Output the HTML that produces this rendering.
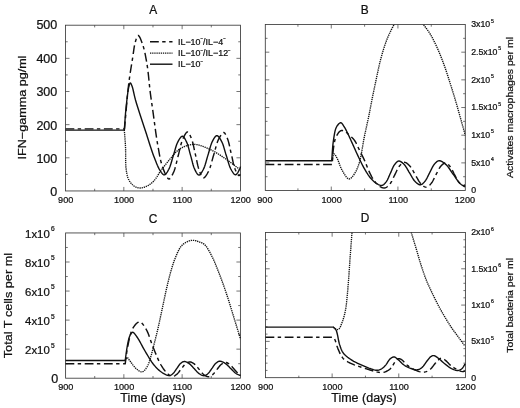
<!DOCTYPE html>
<html><head><meta charset="utf-8"><title>Figure</title>
<style>html,body{margin:0;padding:0;background:#fff}svg{display:block;will-change:transform}text{font-family:"Liberation Sans", sans-serif;fill:#111;stroke:#111;stroke-width:0.24px}</style>
</head><body>
<svg width="520" height="408" viewBox="0 0 520 408">
<rect width="520" height="408" fill="#fff"/>
<rect x="65.5" y="25.2" width="174.95" height="165.75" fill="none" stroke="#3a3a3a" stroke-width="0.85"/>
<path d="M123.82,190.95v-4.0M123.82,25.2v4.0M182.13,190.95v-4.0M182.13,25.2v4.0M94.66,190.95v-2.2M94.66,25.2v2.2M152.97,190.95v-2.2M152.97,25.2v2.2M211.29,190.95v-2.2M211.29,25.2v2.2M65.5,157.8h4.0M240.45,157.8h-4.0M65.5,124.65h4.0M240.45,124.65h-4.0M65.5,91.5h4.0M240.45,91.5h-4.0M65.5,58.35h4.0M240.45,58.35h-4.0M65.5,174.38h2.2M240.45,174.38h-2.2M65.5,141.22h2.2M240.45,141.22h-2.2M65.5,108.07h2.2M240.45,108.07h-2.2M65.5,74.92h2.2M240.45,74.92h-2.2M65.5,41.77h2.2M240.45,41.77h-2.2" fill="none" stroke="#3a3a3a" stroke-width="0.7"/>
<path d="M124.3,129.8 L124.45,131.87 L124.61,133.91 L124.77,135.94 L124.93,137.98 L125.09,140.03 L125.24,142.13 L125.38,144.28 L125.5,146.5 L125.6,149.29 L125.63,152.27 L125.64,155.37 L125.64,158.5 L125.67,161.59 L125.76,164.55 L125.92,167.32 L126.2,169.8 L126.43,171.33 L126.68,172.79 L126.94,174.18 L127.24,175.5 L127.58,176.75 L127.98,177.95 L128.45,179.1 L129,180.2 L129.56,181.16 L130.19,182.09 L130.86,182.99 L131.59,183.84 L132.35,184.63 L133.14,185.34 L133.96,185.97 L134.8,186.5 L135.58,186.9 L136.39,187.25 L137.23,187.54 L138.09,187.76 L138.97,187.91 L139.86,187.98 L140.78,187.98 L141.7,187.9 L142.94,187.66 L144.25,187.26 L145.61,186.73 L146.98,186.08 L148.35,185.33 L149.69,184.49 L150.99,183.57 L152.2,182.6 L153.51,181.34 L154.74,179.88 L155.9,178.29 L157.03,176.6 L158.13,174.86 L159.23,173.11 L160.35,171.41 L161.5,169.8 L162.66,168.28 L163.83,166.76 L165,165.24 L166.19,163.74 L167.36,162.26 L168.53,160.82 L169.68,159.43 L170.8,158.1 L171.72,157.01 L172.62,155.94 L173.5,154.89 L174.38,153.87 L175.26,152.89 L176.15,151.96 L177.06,151.1 L178,150.3 L178.83,149.66 L179.66,149.07 L180.49,148.51 L181.34,148 L182.21,147.53 L183.1,147.09 L184.03,146.68 L185,146.3 L186.15,145.89 L187.33,145.5 L188.55,145.14 L189.81,144.83 L191.11,144.58 L192.44,144.42 L193.8,144.35 L195.2,144.4 L197.11,144.66 L199.13,145.13 L201.23,145.77 L203.38,146.55 L205.54,147.42 L207.69,148.36 L209.79,149.34 L211.8,150.3 L213.73,151.28 L215.62,152.34 L217.48,153.45 L219.31,154.61 L221.12,155.81 L222.92,157.03 L224.71,158.27 L226.5,159.5 L228.29,160.75 L230.05,162.04 L231.81,163.35 L233.55,164.67 L235.28,166.01 L237.02,167.35 L238.76,168.68 L240.5,170" fill="none" stroke="#111" stroke-width="1.35" stroke-dasharray="1.3 0.85"/>
<path d="M65.5,128.85 L124.5,128.85 L125.02,123.16 L125.52,117.36 L126.03,111.51 L126.53,105.68 L127.04,99.95 L127.57,94.38 L128.12,89.04 L128.7,84 L129.17,80.3 L129.67,76.71 L130.18,73.23 L130.7,69.87 L131.22,66.61 L131.73,63.46 L132.23,60.43 L132.7,57.5 L133.03,55.32 L133.33,53.17 L133.61,51.08 L133.9,49.05 L134.19,47.12 L134.52,45.29 L134.88,43.57 L135.3,42 L135.61,40.95 L135.94,39.85 L136.29,38.77 L136.64,37.75 L137.02,36.86 L137.4,36.15 L137.79,35.68 L138.2,35.5 L138.71,35.72 L139.25,36.35 L139.82,37.32 L140.4,38.53 L140.98,39.92 L141.55,41.39 L142.1,42.88 L142.6,44.3 L143.27,46.35 L143.9,48.59 L144.48,50.97 L145.04,53.48 L145.56,56.08 L146.06,58.76 L146.54,61.47 L147,64.2 L147.52,67.58 L147.98,71.18 L148.41,74.91 L148.8,78.71 L149.18,82.48 L149.55,86.14 L149.92,89.61 L150.3,92.8 L150.58,94.92 L150.84,96.85 L151.09,98.66 L151.35,100.42 L151.61,102.19 L151.88,104.05 L152.18,106.07 L152.5,108.3 L153.06,112.34 L153.68,116.93 L154.34,121.9 L155.04,127.07 L155.76,132.28 L156.5,137.37 L157.25,142.17 L158,146.5 L158.54,149.47 L159.05,152.34 L159.56,155.11 L160.08,157.78 L160.64,160.35 L161.25,162.81 L161.93,165.16 L162.7,167.4 L163.38,169.21 L164.13,171.13 L164.92,173.05 L165.74,174.88 L166.57,176.49 L167.41,177.79 L168.22,178.66 L169,179 L169.6,178.85 L170.21,178.37 L170.81,177.63 L171.41,176.68 L171.99,175.6 L172.56,174.44 L173.1,173.26 L173.62,172.12 L174.32,170.42 L174.95,168.52 L175.54,166.46 L176.09,164.3 L176.62,162.08 L177.15,159.84 L177.69,157.63 L178.25,155.5 L178.81,153.37 L179.35,151.16 L179.88,148.92 L180.41,146.7 L180.96,144.54 L181.55,142.48 L182.18,140.58 L182.88,138.88 L183.4,137.75 L183.96,136.57 L184.55,135.41 L185.15,134.33 L185.75,133.39 L186.35,132.65 L186.94,132.16 L187.5,132 L188.03,132.18 L188.56,132.67 L189.08,133.4 L189.59,134.31 L190.1,135.36 L190.58,136.48 L191.05,137.62 L191.5,138.72 L192.1,140.39 L192.65,142.24 L193.16,144.25 L193.64,146.36 L194.1,148.53 L194.55,150.71 L195.01,152.87 L195.5,154.95 L195.99,157.03 L196.45,159.19 L196.9,161.37 L197.36,163.54 L197.84,165.65 L198.35,167.66 L198.9,169.51 L199.5,171.18 L199.94,172.28 L200.41,173.41 L200.89,174.53 L201.38,175.57 L201.89,176.48 L202.41,177.21 L202.95,177.7 L203.5,177.9 L204.1,177.76 L204.73,177.3 L205.38,176.59 L206.04,175.68 L206.71,174.63 L207.35,173.51 L207.97,172.36 L208.55,171.25 L209.3,169.62 L209.99,167.78 L210.63,165.8 L211.23,163.71 L211.82,161.56 L212.4,159.39 L212.99,157.26 L213.6,155.2 L214.21,153.14 L214.8,151.01 L215.38,148.84 L215.97,146.69 L216.57,144.6 L217.21,142.62 L217.9,140.78 L218.65,139.15 L219.23,138.04 L219.85,136.89 L220.5,135.77 L221.16,134.72 L221.83,133.81 L222.48,133.1 L223.11,132.65 L223.7,132.5 L224.23,132.68 L224.74,133.14 L225.23,133.83 L225.72,134.68 L226.19,135.66 L226.64,136.7 L227.08,137.77 L227.5,138.8 L228.07,140.36 L228.6,142.1 L229.08,143.98 L229.53,145.95 L229.97,147.99 L230.4,150.03 L230.84,152.05 L231.3,154 L231.76,155.95 L232.2,157.97 L232.63,160.01 L233.07,162.05 L233.52,164.02 L234,165.9 L234.53,167.64 L235.1,169.2 L235.53,170.22 L236,171.27 L236.49,172.29 L236.99,173.24 L237.49,174.08 L237.98,174.77 L238.46,175.26 L238.9,175.5 L239.11,175.51 L239.31,175.46 L239.52,175.35 L239.71,175.2 L239.91,175.04 L240.1,174.86 L240.3,174.7 L240.5,174.57" fill="none" stroke="#111" stroke-width="1.45" stroke-linejoin="round" stroke-dasharray="8.8 3.4 3.4 3.6"/>
<path d="M65.5,130.15 L124.3,130.15 L124.5,127.42 L124.7,124.69 L124.88,121.96 L125.07,119.23 L125.27,116.51 L125.49,113.77 L125.73,111.04 L126,108.3 L126.31,105.38 L126.65,102.25 L127,99.03 L127.38,95.85 L127.77,92.84 L128.18,90.11 L128.59,87.79 L129,86 L129.16,85.44 L129.31,84.9 L129.47,84.4 L129.62,83.95 L129.78,83.56 L129.95,83.27 L130.12,83.07 L130.3,83 L130.49,83.06 L130.7,83.26 L130.91,83.56 L131.13,83.96 L131.35,84.42 L131.57,84.93 L131.78,85.46 L132,86 L132.42,87.21 L132.82,88.64 L133.2,90.25 L133.59,92.02 L134.01,93.91 L134.45,95.89 L134.95,97.93 L135.5,100 L136.45,103.24 L137.55,106.79 L138.74,110.55 L140.02,114.47 L141.33,118.47 L142.65,122.47 L143.95,126.41 L145.2,130.2 L146.37,133.82 L147.55,137.52 L148.74,141.23 L149.92,144.92 L151.09,148.5 L152.25,151.93 L153.39,155.15 L154.5,158.1 L155.25,160.01 L155.97,161.86 L156.69,163.64 L157.39,165.33 L158.1,166.92 L158.82,168.38 L159.55,169.72 L160.3,170.9 L160.79,171.61 L161.28,172.32 L161.78,173.01 L162.28,173.63 L162.79,174.16 L163.29,174.57 L163.8,174.83 L164.3,174.9 L164.87,174.73 L165.46,174.32 L166.05,173.72 L166.63,172.95 L167.21,172.08 L167.77,171.14 L168.31,170.18 L168.83,169.23 L169.49,167.84 L170.11,166.28 L170.68,164.59 L171.22,162.81 L171.75,160.97 L172.27,159.13 L172.8,157.31 L173.35,155.55 L173.9,153.79 L174.43,151.97 L174.95,150.13 L175.48,148.29 L176.02,146.51 L176.59,144.82 L177.21,143.26 L177.88,141.87 L178.39,140.92 L178.94,139.94 L179.51,138.99 L180.09,138.1 L180.68,137.33 L181.27,136.73 L181.84,136.33 L182.4,136.2 L182.94,136.35 L183.48,136.76 L184.02,137.37 L184.55,138.15 L185.07,139.03 L185.57,139.98 L186.06,140.95 L186.52,141.9 L187.14,143.3 L187.7,144.87 L188.22,146.57 L188.72,148.36 L189.19,150.2 L189.67,152.06 L190.15,153.89 L190.65,155.65 L191.15,157.41 L191.63,159.24 L192.11,161.1 L192.58,162.94 L193.08,164.73 L193.6,166.43 L194.16,168 L194.78,169.4 L195.24,170.35 L195.73,171.32 L196.23,172.27 L196.76,173.16 L197.29,173.93 L197.83,174.54 L198.36,174.95 L198.9,175.1 L199.46,174.96 L200.03,174.56 L200.61,173.94 L201.2,173.15 L201.78,172.25 L202.34,171.27 L202.89,170.28 L203.4,169.32 L204.07,167.89 L204.68,166.3 L205.25,164.57 L205.79,162.76 L206.31,160.88 L206.83,159 L207.35,157.14 L207.9,155.35 L208.45,153.56 L208.97,151.7 L209.49,149.82 L210.01,147.94 L210.55,146.13 L211.12,144.4 L211.73,142.81 L212.4,141.38 L212.91,140.42 L213.45,139.43 L214,138.46 L214.57,137.56 L215.15,136.78 L215.74,136.16 L216.32,135.75 L216.9,135.6 L217.48,135.74 L218.08,136.14 L218.68,136.76 L219.29,137.53 L219.88,138.43 L220.46,139.39 L221.02,140.38 L221.55,141.34 L222.24,142.75 L222.87,144.33 L223.46,146.04 L224.01,147.85 L224.55,149.71 L225.09,151.58 L225.63,153.42 L226.2,155.2 L226.77,156.98 L227.31,158.82 L227.85,160.69 L228.39,162.55 L228.94,164.36 L229.53,166.07 L230.16,167.65 L230.85,169.06 L231.38,170.02 L231.94,171.01 L232.53,171.98 L233.13,172.88 L233.74,173.66 L234.34,174.27 L234.93,174.67 L235.5,174.8 L236.06,174.61 L236.64,174.11 L237.22,173.4 L237.8,172.53 L238.34,171.59 L238.84,170.66 L239.27,169.81 L239.62,169.12 L239.79,168.77 L239.93,168.45 L240.04,168.14 L240.14,167.84 L240.23,167.54 L240.31,167.25 L240.4,166.96 L240.5,166.65" fill="none" stroke="#111" stroke-width="1.4" stroke-linejoin="round"/>
<path d="M150,41.8H172.5" fill="none" stroke="#111" stroke-width="1.45" stroke-linejoin="round" stroke-dasharray="8.8 3.4 3.4 3.6"/>
<path d="M150,53.1H172.5" fill="none" stroke="#111" stroke-width="1.35" stroke-dasharray="1.3 0.85"/>
<path d="M150,64.2H172.5" fill="none" stroke="#111" stroke-width="1.4" stroke-linejoin="round"/>
<text transform="translate(178,44.7) scale(0.99,1)" font-size="9" text-anchor="start">IL−10<tspan dy="-4.5" font-size="4.5">−</tspan><tspan dy="4.5">/IL−4</tspan><tspan dy="-4.5" font-size="4.5">−</tspan><tspan dy="4.5"></tspan></text>
<text transform="translate(178,56) scale(0.99,1)" font-size="9" text-anchor="start">IL−10<tspan dy="-4.5" font-size="4.5">−</tspan><tspan dy="4.5">/IL−12</tspan><tspan dy="-4.5" font-size="4.5">−</tspan><tspan dy="4.5"></tspan></text>
<text transform="translate(178,67.1) scale(0.99,1)" font-size="9" text-anchor="start">IL−10<tspan dy="-4.5" font-size="4.5">−</tspan><tspan dy="4.5"></tspan></text>
<text transform="translate(57.3,196.35) scale(1.02,1)" font-size="12.3" text-anchor="end">0</text>
<text transform="translate(57.3,162.93) scale(1.02,1)" font-size="12.3" text-anchor="end">100</text>
<text transform="translate(57.3,129.51) scale(1.02,1)" font-size="12.3" text-anchor="end">200</text>
<text transform="translate(57.3,96.09) scale(1.02,1)" font-size="12.3" text-anchor="end">300</text>
<text transform="translate(57.3,62.67) scale(1.02,1)" font-size="12.3" text-anchor="end">400</text>
<text transform="translate(57.3,29.25) scale(1.02,1)" font-size="12.3" text-anchor="end">500</text>
<text transform="translate(65.7,202.5) scale(0.94,1)" font-size="9.7" text-anchor="middle">900</text>
<text transform="translate(124.02,202.5) scale(0.94,1)" font-size="9.7" text-anchor="middle">1000</text>
<text transform="translate(182.33,202.5) scale(0.94,1)" font-size="9.7" text-anchor="middle">1100</text>
<text transform="translate(240.65,202.5) scale(0.94,1)" font-size="9.7" text-anchor="middle">1200</text>
<text transform="translate(26,107.5) rotate(-90) scale(1.095,1)" font-size="11.5" text-anchor="middle">IFN−gamma pg/ml</text>
<text transform="translate(153.1,14.4)" font-size="11.9" text-anchor="middle">A</text>
<rect x="265.3" y="24.5" width="200" height="166.05" fill="none" stroke="#3a3a3a" stroke-width="0.85"/>
<path d="M331.27,190.55v-4.0M331.27,24.5v4.0M397.93,190.55v-4.0M397.93,24.5v4.0M297.93,190.55v-2.2M297.93,24.5v2.2M364.6,190.55v-2.2M364.6,24.5v2.2M431.27,190.55v-2.2M431.27,24.5v2.2M265.3,162.88h4.0M465.3,162.88h-4.0M265.3,135.2h4.0M465.3,135.2h-4.0M265.3,107.53h4.0M465.3,107.53h-4.0M265.3,79.85h4.0M465.3,79.85h-4.0M265.3,52.18h4.0M465.3,52.18h-4.0M265.3,176.71h2.2M465.3,176.71h-2.2M265.3,149.04h2.2M465.3,149.04h-2.2M265.3,121.36h2.2M465.3,121.36h-2.2M265.3,93.69h2.2M465.3,93.69h-2.2M265.3,66.01h2.2M465.3,66.01h-2.2M265.3,38.34h2.2M465.3,38.34h-2.2" fill="none" stroke="#3a3a3a" stroke-width="0.7"/>
<clipPath id="cb"><rect x="265.3" y="24.5" width="200.0" height="166.05"/></clipPath>
<g clip-path="url(#cb)">
<path d="M332.2,160.6 L332.41,159.69 L332.61,158.66 L332.79,157.59 L332.98,156.54 L333.19,155.58 L333.42,154.79 L333.69,154.24 L334,154 L334.31,154.06 L334.65,154.31 L335.02,154.73 L335.41,155.28 L335.81,155.92 L336.21,156.61 L336.61,157.31 L337,158 L337.6,159.19 L338.18,160.58 L338.75,162.11 L339.33,163.73 L339.93,165.38 L340.57,167.01 L341.25,168.57 L342,170 L342.77,171.34 L343.61,172.8 L344.49,174.27 L345.39,175.69 L346.32,176.95 L347.24,177.98 L348.14,178.69 L349,179 L349.65,178.93 L350.3,178.65 L350.94,178.18 L351.58,177.58 L352.21,176.86 L352.83,176.09 L353.43,175.29 L354,174.5 L354.75,173.39 L355.47,172.18 L356.15,170.87 L356.8,169.46 L357.43,167.97 L358.04,166.39 L358.63,164.73 L359.2,163 L359.98,160.26 L360.68,157.21 L361.33,153.94 L361.94,150.51 L362.52,147.03 L363.1,143.56 L363.69,140.19 L364.3,137 L364.87,134.25 L365.45,131.55 L366.03,128.89 L366.6,126.26 L367.17,123.66 L367.73,121.09 L368.27,118.53 L368.8,116 L369.27,113.68 L369.72,111.39 L370.15,109.12 L370.58,106.87 L371.01,104.64 L371.43,102.42 L371.86,100.21 L372.3,98 L372.73,95.9 L373.15,93.83 L373.57,91.79 L374,89.75 L374.43,87.7 L374.87,85.62 L375.33,83.49 L375.8,81.3 L376.36,78.67 L376.92,75.95 L377.5,73.17 L378.09,70.34 L378.7,67.51 L379.34,64.69 L380,61.91 L380.7,59.2 L381.39,56.66 L382.1,54.13 L382.83,51.62 L383.58,49.13 L384.37,46.67 L385.18,44.26 L386.02,41.9 L386.9,39.6 L387.73,37.56 L388.6,35.55 L389.49,33.58 L390.41,31.64 L391.34,29.75 L392.29,27.91 L393.24,26.12 L394.2,24.4 L395.01,22.94 L395.8,21.48 L396.6,20.05 L397.4,18.66 L398.23,17.34 L399.1,16.11 L400.02,14.99 L401,14 L401.88,13.24 L402.82,12.51 L403.79,11.83 L404.78,11.23 L405.8,10.72 L406.81,10.33 L407.81,10.09 L408.8,10 L409.78,10.09 L410.77,10.34 L411.77,10.73 L412.76,11.24 L413.74,11.84 L414.7,12.51 L415.62,13.24 L416.5,14 L417.49,15.02 L418.42,16.19 L419.3,17.49 L420.15,18.88 L420.97,20.31 L421.8,21.75 L422.63,23.16 L423.5,24.5 L424.38,25.77 L425.28,27.01 L426.18,28.24 L427.08,29.46 L427.98,30.71 L428.87,31.99 L429.74,33.31 L430.6,34.7 L431.57,36.38 L432.52,38.14 L433.46,39.97 L434.39,41.83 L435.3,43.73 L436.19,45.63 L437.06,47.53 L437.9,49.4 L438.7,51.21 L439.47,53.02 L440.22,54.83 L440.96,56.64 L441.68,58.46 L442.39,60.31 L443.09,62.19 L443.8,64.1 L444.56,66.22 L445.32,68.38 L446.06,70.57 L446.8,72.79 L447.52,75.03 L448.25,77.28 L448.98,79.54 L449.7,81.8 L450.45,84.15 L451.21,86.54 L451.96,88.94 L452.71,91.35 L453.45,93.76 L454.18,96.16 L454.9,98.54 L455.6,100.9 L456.26,103.13 L456.9,105.36 L457.53,107.57 L458.15,109.77 L458.77,111.96 L459.38,114.14 L459.99,116.32 L460.6,118.5 L461.2,120.62 L461.79,122.73 L462.38,124.83 L462.96,126.92 L463.55,129.02 L464.13,131.11 L464.71,133.2 L465.3,135.3" fill="none" stroke="#111" stroke-width="1.35" stroke-dasharray="1.3 0.85"/>
</g>
<path d="M265.5,164.4 L332.2,164.4 L332.35,162.33 L332.48,160.22 L332.6,158.1 L332.73,155.99 L332.87,153.9 L333.04,151.86 L333.25,149.89 L333.5,148 L333.73,146.49 L333.95,145 L334.18,143.54 L334.44,142.12 L334.74,140.74 L335.09,139.43 L335.51,138.18 L336,137 L336.48,136.02 L337.02,135.03 L337.61,134.06 L338.23,133.14 L338.88,132.31 L339.55,131.61 L340.23,131.06 L340.9,130.7 L341.39,130.57 L341.91,130.54 L342.43,130.58 L342.96,130.69 L343.49,130.86 L344.01,131.05 L344.51,131.27 L345,131.5 L345.49,131.77 L345.96,132.08 L346.41,132.44 L346.85,132.83 L347.29,133.25 L347.74,133.69 L348.21,134.14 L348.7,134.6 L349.39,135.22 L350.13,135.87 L350.89,136.55 L351.67,137.27 L352.45,138.02 L353.2,138.8 L353.93,139.63 L354.6,140.5 L355.31,141.57 L355.96,142.72 L356.58,143.94 L357.17,145.2 L357.75,146.48 L358.32,147.77 L358.9,149.05 L359.5,150.3 L360.11,151.52 L360.73,152.72 L361.35,153.93 L361.97,155.13 L362.59,156.35 L363.2,157.57 L363.8,158.82 L364.4,160.1 L365.03,161.53 L365.64,163.01 L366.24,164.52 L366.83,166.05 L367.43,167.57 L368.04,169.06 L368.66,170.51 L369.3,171.9 L369.88,173.09 L370.45,174.27 L371.03,175.42 L371.61,176.55 L372.22,177.65 L372.85,178.71 L373.5,179.73 L374.2,180.7 L374.87,181.57 L375.57,182.43 L376.29,183.27 L377.04,184.07 L377.8,184.82 L378.56,185.51 L379.33,186.1 L380.1,186.6 L380.7,186.93 L381.32,187.23 L381.94,187.5 L382.56,187.71 L383.19,187.87 L383.8,187.96 L384.41,187.97 L385,187.9 L385.64,187.71 L386.27,187.41 L386.89,187.01 L387.51,186.54 L388.11,186 L388.7,185.41 L389.27,184.79 L389.82,184.15 L390.51,183.25 L391.14,182.22 L391.75,181.1 L392.34,179.92 L392.91,178.7 L393.48,177.47 L394.06,176.26 L394.65,175.1 L395.24,173.94 L395.82,172.73 L396.39,171.5 L396.96,170.28 L397.55,169.1 L398.16,167.98 L398.79,166.95 L399.48,166.05 L400.03,165.4 L400.6,164.75 L401.19,164.12 L401.8,163.55 L402.42,163.06 L403.04,162.67 L403.67,162.41 L404.3,162.3 L404.97,162.37 L405.66,162.6 L406.36,162.97 L407.07,163.46 L407.77,164.02 L408.46,164.65 L409.13,165.3 L409.77,165.95 L410.53,166.82 L411.25,167.82 L411.94,168.9 L412.61,170.05 L413.27,171.24 L413.92,172.44 L414.58,173.62 L415.25,174.75 L415.92,175.88 L416.58,177.06 L417.23,178.26 L417.89,179.45 L418.56,180.6 L419.25,181.68 L419.97,182.68 L420.73,183.55 L421.37,184.2 L422.03,184.85 L422.73,185.47 L423.43,186.04 L424.14,186.52 L424.84,186.89 L425.53,187.13 L426.2,187.2 L426.83,187.1 L427.45,186.86 L428.07,186.49 L428.68,186.02 L429.29,185.48 L429.87,184.89 L430.45,184.26 L431,183.64 L431.67,182.78 L432.31,181.81 L432.91,180.75 L433.5,179.63 L434.07,178.47 L434.64,177.3 L435.21,176.15 L435.8,175.05 L436.39,173.95 L436.96,172.8 L437.53,171.63 L438.1,170.47 L438.69,169.35 L439.29,168.29 L439.93,167.32 L440.6,166.46 L441.16,165.83 L441.74,165.21 L442.34,164.61 L442.95,164.06 L443.57,163.59 L444.19,163.22 L444.8,162.99 L445.4,162.9 L445.97,162.98 L446.55,163.2 L447.13,163.55 L447.7,163.99 L448.27,164.5 L448.82,165.06 L449.36,165.64 L449.88,166.22 L450.5,167.03 L451.09,167.93 L451.66,168.92 L452.2,169.97 L452.73,171.05 L453.26,172.14 L453.8,173.22 L454.35,174.25 L454.9,175.28 L455.44,176.36 L455.97,177.45 L456.5,178.53 L457.04,179.58 L457.61,180.57 L458.2,181.47 L458.82,182.28 L459.36,182.85 L459.93,183.43 L460.53,183.97 L461.13,184.47 L461.73,184.9 L462.3,185.25 L462.83,185.49 L463.3,185.6 L463.54,185.6 L463.77,185.54 L463.99,185.45 L464.19,185.33 L464.39,185.19 L464.59,185.05 L464.79,184.91 L465,184.8" fill="none" stroke="#111" stroke-width="1.45" stroke-linejoin="round" stroke-dasharray="8.8 3.4 3.4 3.6"/>
<path d="M265.5,160.8 L331.7,160.8 L331.91,158.17 L332.1,155.48 L332.28,152.78 L332.46,150.08 L332.67,147.43 L332.9,144.85 L333.17,142.36 L333.5,140 L333.78,138.17 L334.06,136.34 L334.35,134.54 L334.66,132.8 L335.02,131.15 L335.43,129.62 L335.92,128.22 L336.5,127 L336.96,126.23 L337.46,125.46 L338.01,124.73 L338.59,124.07 L339.17,123.5 L339.74,123.06 L340.29,122.79 L340.8,122.7 L341.24,122.82 L341.66,123.12 L342.07,123.55 L342.48,124.09 L342.87,124.69 L343.26,125.32 L343.63,125.94 L344,126.5 L344.38,127.06 L344.73,127.63 L345.07,128.2 L345.4,128.79 L345.72,129.41 L346.06,130.06 L346.42,130.75 L346.8,131.5 L347.44,132.78 L348.13,134.21 L348.85,135.75 L349.59,137.37 L350.35,139.04 L351.11,140.72 L351.86,142.39 L352.6,144 L353.34,145.62 L354.07,147.25 L354.8,148.89 L355.53,150.53 L356.27,152.17 L357.01,153.8 L357.75,155.41 L358.5,157 L359.22,158.51 L359.94,160.02 L360.67,161.52 L361.39,163.01 L362.13,164.48 L362.87,165.92 L363.63,167.33 L364.4,168.7 L365.11,169.92 L365.82,171.12 L366.53,172.31 L367.26,173.47 L367.99,174.59 L368.75,175.68 L369.51,176.72 L370.3,177.7 L371,178.52 L371.71,179.33 L372.42,180.1 L373.15,180.84 L373.9,181.54 L374.65,182.19 L375.42,182.78 L376.2,183.3 L376.91,183.73 L377.64,184.15 L378.39,184.54 L379.15,184.89 L379.9,185.17 L380.63,185.36 L381.34,185.44 L382,185.4 L382.59,185.23 L383.16,184.95 L383.7,184.57 L384.23,184.11 L384.74,183.59 L385.24,183.03 L385.73,182.43 L386.2,181.83 L386.8,180.96 L387.36,179.98 L387.89,178.92 L388.4,177.79 L388.89,176.63 L389.39,175.46 L389.89,174.31 L390.4,173.2 L390.91,172.09 L391.41,170.94 L391.91,169.77 L392.4,168.61 L392.91,167.48 L393.44,166.42 L394,165.44 L394.6,164.57 L395.08,163.96 L395.57,163.35 L396.08,162.76 L396.6,162.22 L397.13,161.75 L397.68,161.37 L398.23,161.12 L398.8,161 L399.44,161.05 L400.1,161.27 L400.79,161.62 L401.49,162.09 L402.19,162.63 L402.88,163.23 L403.54,163.86 L404.18,164.49 L404.92,165.32 L405.62,166.27 L406.3,167.31 L406.96,168.41 L407.6,169.55 L408.24,170.69 L408.89,171.82 L409.55,172.9 L410.21,173.98 L410.86,175.11 L411.5,176.25 L412.14,177.39 L412.8,178.49 L413.48,179.53 L414.18,180.48 L414.93,181.31 L415.55,181.94 L416.21,182.56 L416.89,183.16 L417.58,183.7 L418.28,184.16 L418.97,184.51 L419.65,184.74 L420.3,184.8 L420.91,184.7 L421.52,184.45 L422.13,184.09 L422.72,183.62 L423.31,183.09 L423.88,182.5 L424.44,181.89 L424.98,181.27 L425.63,180.42 L426.25,179.46 L426.84,178.4 L427.41,177.29 L427.96,176.14 L428.52,174.99 L429.08,173.85 L429.65,172.75 L430.22,171.65 L430.78,170.51 L431.34,169.36 L431.89,168.21 L432.46,167.1 L433.05,166.04 L433.67,165.08 L434.32,164.23 L434.86,163.62 L435.4,163.01 L435.96,162.43 L436.53,161.9 L437.12,161.44 L437.72,161.07 L438.35,160.82 L439,160.7 L439.8,160.75 L440.66,160.98 L441.55,161.37 L442.47,161.89 L443.38,162.5 L444.29,163.17 L445.17,163.88 L446,164.6 L446.95,165.53 L447.86,166.59 L448.74,167.75 L449.6,168.98 L450.45,170.25 L451.29,171.53 L452.14,172.79 L453,174 L453.88,175.21 L454.75,176.47 L455.63,177.76 L456.51,179.03 L457.38,180.26 L458.26,181.42 L459.13,182.48 L460,183.4 L460.63,183.98 L461.25,184.49 L461.88,184.94 L462.5,185.36 L463.13,185.75 L463.75,186.14 L464.38,186.54 L465,186.97" fill="none" stroke="#111" stroke-width="1.4" stroke-linejoin="round"/>
<text transform="translate(471.2,193.45) scale(1.02,1)" font-size="8.6" text-anchor="start">0</text>
<text transform="translate(471.2,165.78) scale(1.02,1)" font-size="8.6" text-anchor="start">5x10<tspan dx="0.86" dy="-4.64" font-size="4.99">4</tspan></text>
<text transform="translate(471.2,138.1) scale(1.02,1)" font-size="8.6" text-anchor="start">1x10<tspan dx="0.86" dy="-4.64" font-size="4.99">5</tspan></text>
<text transform="translate(471.2,110.43) scale(1.02,1)" font-size="8.6" text-anchor="start">1.5x10<tspan dx="0.86" dy="-4.64" font-size="4.99">5</tspan></text>
<text transform="translate(471.2,82.75) scale(1.02,1)" font-size="8.6" text-anchor="start">2x10<tspan dx="0.86" dy="-4.64" font-size="4.99">5</tspan></text>
<text transform="translate(471.2,55.08) scale(1.02,1)" font-size="8.6" text-anchor="start">2.5x10<tspan dx="0.86" dy="-4.64" font-size="4.99">5</tspan></text>
<text transform="translate(471.2,27.4) scale(1.02,1)" font-size="8.6" text-anchor="start">3x10<tspan dx="0.86" dy="-4.64" font-size="4.99">5</tspan></text>
<text transform="translate(264.9,202.5) scale(0.94,1)" font-size="9.7" text-anchor="middle">900</text>
<text transform="translate(331.57,202.5) scale(0.94,1)" font-size="9.7" text-anchor="middle">1000</text>
<text transform="translate(398.23,202.5) scale(0.94,1)" font-size="9.7" text-anchor="middle">1100</text>
<text transform="translate(464.9,202.5) scale(0.94,1)" font-size="9.7" text-anchor="middle">1200</text>
<text transform="translate(512.6,107.5) rotate(-90) scale(1.095,1)" font-size="9.6" text-anchor="middle">Activates macrophages per ml</text>
<text transform="translate(364.8,14.4)" font-size="11.9" text-anchor="middle">B</text>
<rect x="65.6" y="232.95" width="174.8" height="145.25" fill="none" stroke="#3a3a3a" stroke-width="0.85"/>
<path d="M123.87,378.2v-4.0M123.87,232.95v4.0M182.13,378.2v-4.0M182.13,232.95v4.0M94.73,378.2v-2.2M94.73,232.95v2.2M153,378.2v-2.2M153,232.95v2.2M211.27,378.2v-2.2M211.27,232.95v2.2M65.6,349.15h4.0M240.4,349.15h-4.0M65.6,320.1h4.0M240.4,320.1h-4.0M65.6,291.05h4.0M240.4,291.05h-4.0M65.6,262h4.0M240.4,262h-4.0M65.6,363.68h2.2M240.4,363.68h-2.2M65.6,334.62h2.2M240.4,334.62h-2.2M65.6,305.57h2.2M240.4,305.57h-2.2M65.6,276.52h2.2M240.4,276.52h-2.2M65.6,247.47h2.2M240.4,247.47h-2.2" fill="none" stroke="#3a3a3a" stroke-width="0.7"/>
<path d="M125,360.8 L125.25,360.35 L125.48,359.83 L125.72,359.29 L125.96,358.76 L126.2,358.28 L126.45,357.89 L126.72,357.62 L127,357.5 L127.33,357.57 L127.67,357.82 L128.02,358.21 L128.39,358.7 L128.77,359.26 L129.16,359.85 L129.57,360.45 L130,361 L130.65,361.82 L131.33,362.76 L132.05,363.77 L132.8,364.81 L133.58,365.84 L134.37,366.82 L135.18,367.72 L136,368.5 L136.72,369.11 L137.47,369.73 L138.23,370.34 L139.01,370.88 L139.79,371.35 L140.55,371.69 L141.29,371.89 L142,371.9 L142.69,371.71 L143.36,371.34 L144.02,370.81 L144.67,370.17 L145.29,369.44 L145.89,368.64 L146.46,367.82 L147,367 L147.64,365.87 L148.23,364.59 L148.77,363.2 L149.27,361.74 L149.74,360.26 L150.17,358.78 L150.59,357.35 L151,356 L151.33,354.92 L151.61,353.9 L151.88,352.91 L152.13,351.93 L152.38,350.93 L152.63,349.89 L152.9,348.79 L153.2,347.6 L153.68,345.72 L154.2,343.69 L154.75,341.54 L155.32,339.29 L155.9,336.99 L156.48,334.65 L157.05,332.31 L157.6,330 L158.18,327.51 L158.75,324.97 L159.31,322.4 L159.87,319.81 L160.43,317.2 L160.99,314.59 L161.54,311.99 L162.1,309.4 L162.65,306.81 L163.2,304.21 L163.74,301.6 L164.28,298.99 L164.83,296.4 L165.38,293.83 L165.93,291.29 L166.5,288.8 L167.03,286.51 L167.56,284.24 L168.1,281.98 L168.64,279.74 L169.19,277.54 L169.75,275.38 L170.32,273.26 L170.9,271.2 L171.41,269.43 L171.92,267.7 L172.44,266.01 L172.96,264.35 L173.5,262.71 L174.07,261.09 L174.66,259.49 L175.3,257.9 L175.94,256.34 L176.61,254.74 L177.29,253.14 L178.01,251.56 L178.75,250.05 L179.53,248.63 L180.34,247.34 L181.2,246.2 L181.87,245.45 L182.57,244.77 L183.3,244.15 L184.04,243.59 L184.79,243.07 L185.56,242.61 L186.33,242.19 L187.1,241.8 L187.8,241.48 L188.51,241.19 L189.24,240.94 L189.96,240.72 L190.69,240.54 L191.43,240.41 L192.16,240.33 L192.9,240.3 L193.66,240.33 L194.42,240.43 L195.2,240.58 L195.97,240.77 L196.74,241 L197.5,241.26 L198.26,241.53 L199,241.8 L199.74,242.07 L200.47,242.33 L201.2,242.6 L201.92,242.9 L202.63,243.25 L203.33,243.65 L204.02,244.13 L204.7,244.7 L205.68,245.73 L206.64,246.95 L207.57,248.34 L208.49,249.86 L209.39,251.46 L210.27,253.13 L211.14,254.82 L212,256.5 L212.99,258.5 L213.95,260.58 L214.89,262.73 L215.81,264.95 L216.71,267.21 L217.61,269.49 L218.51,271.8 L219.4,274.1 L220.35,276.58 L221.3,279.09 L222.24,281.63 L223.17,284.19 L224.09,286.78 L225,289.4 L225.9,292.04 L226.8,294.7 L227.74,297.57 L228.68,300.49 L229.6,303.45 L230.52,306.43 L231.42,309.42 L232.32,312.39 L233.22,315.32 L234.1,318.2 L234.92,320.86 L235.73,323.49 L236.53,326.09 L237.33,328.68 L238.12,331.26 L238.91,333.83 L239.7,336.41 L240.5,339" fill="none" stroke="#111" stroke-width="1.35" stroke-dasharray="1.3 0.85"/>
<path d="M65.5,363.8 L125.2,363.8 L125.53,361.44 L125.84,359.07 L126.14,356.7 L126.45,354.32 L126.77,351.96 L127.13,349.61 L127.53,347.29 L128,345 L128.48,342.75 L128.97,340.44 L129.49,338.11 L130.05,335.81 L130.66,333.6 L131.35,331.53 L132.12,329.65 L133,328 L133.71,326.91 L134.48,325.82 L135.31,324.78 L136.17,323.84 L137.04,323.03 L137.92,322.41 L138.78,322.02 L139.6,321.9 L140.43,322.11 L141.26,322.61 L142.08,323.36 L142.9,324.31 L143.71,325.4 L144.5,326.58 L145.26,327.8 L146,329 L146.99,330.81 L147.9,332.85 L148.77,335.08 L149.6,337.43 L150.42,339.85 L151.24,342.29 L152.1,344.69 L153,347 L153.95,349.31 L154.92,351.7 L155.91,354.11 L156.91,356.51 L157.92,358.84 L158.94,361.06 L159.97,363.13 L161,365 L161.73,366.22 L162.47,367.38 L163.2,368.47 L163.94,369.5 L164.69,370.47 L165.44,371.38 L166.21,372.22 L167,373 L167.64,373.6 L168.3,374.2 L168.97,374.78 L169.64,375.31 L170.32,375.76 L170.99,376.13 L171.65,376.38 L172.3,376.5 L172.86,376.48 L173.43,376.36 L173.99,376.14 L174.54,375.86 L175.09,375.53 L175.63,375.15 L176.16,374.76 L176.68,374.36 L177.26,373.85 L177.83,373.27 L178.38,372.64 L178.92,371.96 L179.45,371.26 L179.98,370.56 L180.51,369.86 L181.05,369.2 L181.59,368.54 L182.12,367.84 L182.65,367.14 L183.18,366.44 L183.72,365.76 L184.27,365.13 L184.84,364.55 L185.43,364.04 L185.94,363.64 L186.47,363.26 L187.01,362.9 L187.56,362.58 L188.12,362.3 L188.68,362.09 L189.24,361.95 L189.8,361.9 L190.38,361.94 L190.97,362.08 L191.56,362.3 L192.15,362.57 L192.74,362.9 L193.33,363.27 L193.9,363.66 L194.45,364.07 L195.07,364.58 L195.67,365.17 L196.26,365.82 L196.83,366.5 L197.39,367.21 L197.96,367.92 L198.52,368.63 L199.1,369.3 L199.68,369.97 L200.24,370.68 L200.81,371.39 L201.37,372.1 L201.94,372.78 L202.53,373.43 L203.13,374.02 L203.75,374.53 L204.3,374.94 L204.87,375.33 L205.46,375.7 L206.05,376.03 L206.65,376.31 L207.24,376.52 L207.83,376.66 L208.4,376.7 L208.95,376.65 L209.49,376.51 L210.04,376.3 L210.58,376.03 L211.11,375.72 L211.63,375.37 L212.15,374.99 L212.65,374.61 L213.22,374.11 L213.77,373.54 L214.3,372.91 L214.83,372.25 L215.34,371.57 L215.86,370.88 L216.37,370.2 L216.9,369.55 L217.43,368.9 L217.94,368.22 L218.46,367.53 L218.97,366.85 L219.5,366.19 L220.03,365.56 L220.58,364.99 L221.15,364.49 L221.65,364.11 L222.17,363.73 L222.7,363.38 L223.23,363.07 L223.78,362.8 L224.32,362.59 L224.86,362.46 L225.4,362.4 L225.94,362.44 L226.48,362.55 L227.02,362.74 L227.57,362.99 L228.11,363.28 L228.64,363.61 L229.17,363.96 L229.68,364.32 L230.24,364.77 L230.8,365.29 L231.33,365.87 L231.86,366.47 L232.38,367.1 L232.9,367.73 L233.42,368.35 L233.95,368.95 L234.49,369.55 L235.04,370.18 L235.6,370.81 L236.15,371.44 L236.69,372.05 L237.22,372.63 L237.74,373.14 L238.23,373.58 L238.53,373.83 L238.82,374.04 L239.11,374.23 L239.39,374.4 L239.67,374.56 L239.94,374.72 L240.22,374.89 L240.5,375.06" fill="none" stroke="#111" stroke-width="1.45" stroke-linejoin="round" stroke-dasharray="8.8 3.4 3.4 3.6"/>
<path d="M65.5,360.5 L125.2,360.5 L125.48,358.54 L125.75,356.53 L126.02,354.52 L126.29,352.51 L126.57,350.53 L126.86,348.6 L127.17,346.75 L127.5,345 L127.77,343.66 L128.04,342.32 L128.31,341.01 L128.59,339.75 L128.89,338.55 L129.22,337.43 L129.59,336.4 L130,335.5 L130.29,334.94 L130.6,334.39 L130.92,333.85 L131.25,333.36 L131.6,332.94 L131.96,332.6 L132.32,332.38 L132.7,332.3 L133.18,332.41 L133.69,332.73 L134.21,333.22 L134.75,333.86 L135.3,334.59 L135.86,335.38 L136.43,336.2 L137,337 L137.93,338.37 L138.88,339.94 L139.86,341.67 L140.86,343.51 L141.88,345.41 L142.91,347.33 L143.95,349.21 L145,351 L146.08,352.8 L147.17,354.64 L148.27,356.5 L149.39,358.34 L150.52,360.14 L151.66,361.87 L152.82,363.5 L154,365 L154.97,366.13 L155.94,367.22 L156.93,368.25 L157.92,369.23 L158.93,370.14 L159.94,371 L160.97,371.79 L162,372.5 L162.91,373.08 L163.85,373.65 L164.82,374.18 L165.78,374.67 L166.73,375.07 L167.64,375.38 L168.51,375.56 L169.3,375.6 L169.84,375.53 L170.34,375.39 L170.82,375.18 L171.28,374.91 L171.73,374.61 L172.17,374.27 L172.6,373.91 L173.03,373.54 L173.53,373.04 L174.02,372.48 L174.48,371.87 L174.94,371.21 L175.39,370.54 L175.84,369.86 L176.29,369.19 L176.75,368.55 L177.21,367.91 L177.66,367.24 L178.11,366.56 L178.56,365.89 L179.02,365.23 L179.48,364.62 L179.97,364.06 L180.47,363.56 L180.91,363.19 L181.35,362.83 L181.8,362.49 L182.26,362.19 L182.73,361.92 L183.21,361.71 L183.7,361.57 L184.2,361.5 L184.79,361.52 L185.4,361.64 L186.03,361.84 L186.67,362.11 L187.32,362.44 L187.95,362.8 L188.58,363.18 L189.17,363.58 L189.83,364.07 L190.47,364.64 L191.1,365.26 L191.71,365.91 L192.32,366.59 L192.92,367.28 L193.53,367.95 L194.15,368.6 L194.77,369.25 L195.38,369.92 L195.98,370.61 L196.59,371.29 L197.2,371.94 L197.83,372.56 L198.47,373.13 L199.12,373.62 L199.72,374.01 L200.34,374.4 L200.98,374.76 L201.62,375.08 L202.26,375.35 L202.89,375.56 L203.51,375.68 L204.1,375.7 L204.62,375.63 L205.13,375.48 L205.63,375.27 L206.12,375 L206.61,374.68 L207.08,374.33 L207.55,373.96 L208,373.58 L208.53,373.07 L209.04,372.49 L209.53,371.86 L210,371.19 L210.48,370.5 L210.95,369.8 L211.42,369.11 L211.9,368.45 L212.38,367.79 L212.85,367.1 L213.32,366.4 L213.8,365.71 L214.27,365.04 L214.76,364.41 L215.27,363.83 L215.8,363.32 L216.25,362.94 L216.71,362.57 L217.18,362.22 L217.66,361.91 L218.15,361.64 L218.66,361.43 L219.17,361.28 L219.7,361.2 L220.34,361.22 L221,361.33 L221.69,361.54 L222.4,361.81 L223.1,362.14 L223.8,362.51 L224.49,362.9 L225.15,363.31 L225.87,363.81 L226.57,364.38 L227.25,365.01 L227.92,365.67 L228.59,366.36 L229.26,367.06 L229.92,367.74 L230.6,368.4 L231.28,369.06 L231.96,369.74 L232.64,370.43 L233.32,371.12 L234,371.79 L234.68,372.42 L235.37,372.99 L236.05,373.49 L236.6,373.83 L237.16,374.13 L237.72,374.39 L238.27,374.63 L238.83,374.84 L239.39,375.06 L239.94,375.28 L240.5,375.53" fill="none" stroke="#111" stroke-width="1.4" stroke-linejoin="round"/>
<text transform="translate(58.2,382.8) scale(1.02,1)" font-size="12.3" text-anchor="end">0</text>
<text transform="translate(54.6,353.75)" font-size="11.4" text-anchor="end">2x10<tspan dx="1.14" dy="-6.16" font-size="6.61">5</tspan></text>
<text transform="translate(54.6,324.7)" font-size="11.4" text-anchor="end">4x10<tspan dx="1.14" dy="-6.16" font-size="6.61">5</tspan></text>
<text transform="translate(54.6,295.65)" font-size="11.4" text-anchor="end">6x10<tspan dx="1.14" dy="-6.16" font-size="6.61">5</tspan></text>
<text transform="translate(54.6,266.6)" font-size="11.4" text-anchor="end">8x10<tspan dx="1.14" dy="-6.16" font-size="6.61">5</tspan></text>
<text transform="translate(54.6,237.55)" font-size="11.4" text-anchor="end">1x10<tspan dx="1.14" dy="-6.16" font-size="6.61">6</tspan></text>
<text transform="translate(65.8,389.9) scale(0.94,1)" font-size="9.7" text-anchor="middle">900</text>
<text transform="translate(124.07,389.9) scale(0.94,1)" font-size="9.7" text-anchor="middle">1000</text>
<text transform="translate(182.33,389.9) scale(0.94,1)" font-size="9.7" text-anchor="middle">1100</text>
<text transform="translate(240.6,389.9) scale(0.94,1)" font-size="9.7" text-anchor="middle">1200</text>
<text transform="translate(11.7,305.6) rotate(-90) scale(1.104,1)" font-size="11.5" text-anchor="middle">Total T cells per ml</text>
<text transform="translate(153.1,222.5)" font-size="11.9" text-anchor="middle">C</text>
<text transform="translate(153,401.5)" font-size="12.5" text-anchor="middle">Time (days)</text>
<rect x="265.5" y="232.5" width="199.9" height="145.17" fill="none" stroke="#3a3a3a" stroke-width="0.85"/>
<path d="M332.13,377.67v-4.2M332.13,232.5v4.2M398.77,377.67v-4.2M398.77,232.5v4.2M298.82,377.67v-2.0M298.82,232.5v2.0M365.45,377.67v-2.0M365.45,232.5v2.0M432.08,377.67v-2.0M432.08,232.5v2.0M265.5,341.38h4.2M465.4,341.38h-4.2M265.5,305.09h4.2M465.4,305.09h-4.2M265.5,268.79h4.2M465.4,268.79h-4.2M265.5,370.41h2.0M465.4,370.41h-2.0M265.5,363.15h2.0M465.4,363.15h-2.0M265.5,355.89h2.0M465.4,355.89h-2.0M265.5,348.64h2.0M465.4,348.64h-2.0M265.5,334.12h2.0M465.4,334.12h-2.0M265.5,326.86h2.0M465.4,326.86h-2.0M265.5,319.6h2.0M465.4,319.6h-2.0M265.5,312.34h2.0M465.4,312.34h-2.0M265.5,297.83h2.0M465.4,297.83h-2.0M265.5,290.57h2.0M465.4,290.57h-2.0M265.5,283.31h2.0M465.4,283.31h-2.0M265.5,276.05h2.0M465.4,276.05h-2.0M265.5,261.53h2.0M465.4,261.53h-2.0M265.5,254.28h2.0M465.4,254.28h-2.0M265.5,247.02h2.0M465.4,247.02h-2.0M265.5,239.76h2.0M465.4,239.76h-2.0" fill="none" stroke="#3a3a3a" stroke-width="0.7"/>
<clipPath id="cd"><rect x="265.5" y="232.5" width="199.89999999999998" height="145.17000000000002"/></clipPath>
<g clip-path="url(#cd)">
<path d="M333.3,327.1 L333.57,327.32 L333.85,327.54 L334.12,327.77 L334.4,328 L334.67,328.22 L334.94,328.43 L335.22,328.63 L335.5,328.8 L335.75,328.94 L336,329.09 L336.25,329.23 L336.5,329.36 L336.75,329.47 L337.01,329.55 L337.25,329.6 L337.5,329.6 L337.76,329.55 L338.02,329.46 L338.28,329.34 L338.54,329.18 L338.79,328.99 L339.04,328.78 L339.27,328.55 L339.5,328.3 L339.8,327.91 L340.07,327.45 L340.33,326.93 L340.57,326.38 L340.8,325.8 L341.03,325.2 L341.26,324.6 L341.5,324 L341.78,323.31 L342.05,322.61 L342.32,321.89 L342.58,321.15 L342.85,320.4 L343.1,319.62 L343.35,318.82 L343.6,318 L343.89,316.98 L344.18,315.93 L344.46,314.84 L344.73,313.73 L344.99,312.59 L345.24,311.42 L345.48,310.22 L345.7,309 L345.94,307.5 L346.16,305.94 L346.36,304.33 L346.54,302.69 L346.71,301.02 L346.87,299.34 L347.04,297.67 L347.2,296 L347.37,294.28 L347.53,292.54 L347.69,290.79 L347.84,289.03 L347.98,287.27 L348.12,285.51 L348.26,283.75 L348.4,282 L348.53,280.25 L348.67,278.49 L348.79,276.73 L348.92,274.97 L349.04,273.21 L349.16,271.46 L349.28,269.73 L349.4,268 L349.52,266.35 L349.63,264.7 L349.74,263.07 L349.85,261.44 L349.96,259.82 L350.07,258.2 L350.19,256.6 L350.3,255 L350.41,253.47 L350.53,251.93 L350.64,250.41 L350.76,248.89 L350.87,247.38 L350.98,245.89 L351.09,244.43 L351.2,243 L351.29,241.75 L351.38,240.52 L351.47,239.32 L351.56,238.13 L351.65,236.95 L351.73,235.77 L351.82,234.59 L351.9,233.4 L351.98,232.22 L352.06,231.04 L352.13,229.87 L352.21,228.69 L352.28,227.52 L352.35,226.35 L352.43,225.17 L352.5,224" fill="none" stroke="#111" stroke-width="1.35" stroke-dasharray="1.3 0.85"/>
<path d="M409,224 L409.29,225.08 L409.58,226.14 L409.86,227.19 L410.14,228.24 L410.43,229.31 L410.73,230.42 L411.05,231.58 L411.4,232.8 L411.91,234.57 L412.48,236.45 L413.07,238.42 L413.69,240.46 L414.33,242.53 L414.96,244.62 L415.59,246.68 L416.2,248.7 L416.79,250.69 L417.36,252.68 L417.93,254.66 L418.5,256.65 L419.08,258.64 L419.67,260.63 L420.27,262.62 L420.9,264.6 L421.56,266.63 L422.24,268.69 L422.93,270.76 L423.63,272.82 L424.35,274.86 L425.07,276.85 L425.78,278.77 L426.5,280.6 L427.1,282.07 L427.73,283.51 L428.36,284.93 L428.99,286.3 L429.61,287.62 L430.21,288.89 L430.77,290.08 L431.3,291.2 L431.63,291.9 L431.93,292.54 L432.21,293.13 L432.48,293.7 L432.75,294.27 L433.04,294.86 L433.35,295.5 L433.7,296.2 L434.28,297.39 L434.93,298.69 L435.61,300.09 L436.33,301.54 L437.08,303.02 L437.83,304.49 L438.57,305.93 L439.3,307.3 L439.97,308.54 L440.65,309.75 L441.32,310.95 L442,312.14 L442.68,313.32 L443.38,314.5 L444.08,315.69 L444.8,316.9 L445.57,318.18 L446.35,319.48 L447.14,320.79 L447.94,322.1 L448.74,323.4 L449.56,324.69 L450.38,325.96 L451.2,327.2 L451.98,328.34 L452.77,329.45 L453.56,330.54 L454.35,331.62 L455.15,332.69 L455.96,333.78 L456.78,334.88 L457.6,336 L458.5,337.24 L459.41,338.5 L460.34,339.77 L461.27,341.05 L462.2,342.34 L463.14,343.63 L464.07,344.92 L465,346.2" fill="none" stroke="#111" stroke-width="1.35" stroke-dasharray="1.3 0.85"/>
</g>
<path d="M265.5,337.2 L332.4,337.2 L332.66,337.41 L332.93,337.6 L333.2,337.78 L333.46,337.96 L333.73,338.16 L333.99,338.4 L334.25,338.67 L334.5,339 L334.95,339.81 L335.37,340.83 L335.76,342.01 L336.14,343.3 L336.54,344.65 L336.95,346.02 L337.4,347.35 L337.9,348.6 L338.47,349.9 L339.04,351.24 L339.64,352.59 L340.27,353.94 L340.95,355.25 L341.69,356.49 L342.5,357.65 L343.4,358.7 L344.36,359.6 L345.42,360.42 L346.55,361.16 L347.73,361.85 L348.95,362.48 L350.18,363.08 L351.4,363.65 L352.6,364.2 L353.73,364.7 L354.87,365.15 L356.02,365.56 L357.17,365.94 L358.33,366.31 L359.49,366.67 L360.64,367.03 L361.8,367.4 L362.96,367.78 L364.14,368.17 L365.33,368.55 L366.52,368.92 L367.69,369.29 L368.83,369.64 L369.94,369.98 L371,370.3 L371.81,370.55 L372.59,370.79 L373.34,371.03 L374.07,371.26 L374.8,371.48 L375.53,371.67 L376.26,371.85 L377,372 L377.74,372.13 L378.5,372.26 L379.26,372.38 L380.02,372.47 L380.77,372.54 L381.51,372.57 L382.22,372.56 L382.9,372.5 L383.46,372.41 L383.99,372.28 L384.51,372.12 L385.02,371.94 L385.52,371.73 L386.01,371.51 L386.51,371.26 L387,371 L387.55,370.7 L388.09,370.38 L388.63,370.03 L389.17,369.66 L389.7,369.26 L390.22,368.84 L390.72,368.39 L391.2,367.9 L391.73,367.27 L392.22,366.55 L392.69,365.78 L393.14,364.97 L393.59,364.17 L394.04,363.39 L394.51,362.65 L395,362 L395.42,361.48 L395.84,360.96 L396.27,360.43 L396.7,359.94 L397.14,359.5 L397.58,359.13 L398.04,358.86 L398.5,358.7 L398.92,358.66 L399.34,358.7 L399.78,358.81 L400.22,358.98 L400.66,359.2 L401.11,359.44 L401.55,359.72 L402,360 L402.6,360.45 L403.19,361 L403.78,361.63 L404.38,362.31 L404.98,363.01 L405.62,363.71 L406.29,364.38 L407,365 L407.88,365.68 L408.81,366.37 L409.79,367.06 L410.8,367.73 L411.83,368.36 L412.88,368.96 L413.94,369.51 L415,370 L416.05,370.44 L417.13,370.86 L418.23,371.26 L419.34,371.61 L420.44,371.9 L421.53,372.1 L422.59,372.21 L423.6,372.2 L424.46,372.09 L425.31,371.91 L426.13,371.64 L426.94,371.32 L427.73,370.93 L428.5,370.5 L429.26,370.02 L430,369.5 L430.82,368.81 L431.6,367.99 L432.36,367.09 L433.09,366.13 L433.81,365.15 L434.53,364.2 L435.26,363.3 L436,362.5 L436.64,361.84 L437.28,361.15 L437.92,360.46 L438.57,359.8 L439.21,359.21 L439.84,358.73 L440.48,358.38 L441.1,358.2 L441.59,358.19 L442.07,358.27 L442.55,358.44 L443.02,358.68 L443.5,358.97 L443.98,359.3 L444.48,359.64 L445,360 L445.79,360.61 L446.6,361.35 L447.42,362.18 L448.27,363.07 L449.15,363.99 L450.06,364.89 L451.01,365.74 L452,366.5 L453.2,367.3 L454.53,368.12 L455.94,368.94 L457.38,369.71 L458.79,370.4 L460.11,370.97 L461.3,371.38 L462.3,371.6 L462.71,371.62 L463.08,371.59 L463.43,371.52 L463.75,371.43 L464.06,371.31 L464.36,371.2 L464.67,371.09 L465,371" fill="none" stroke="#111" stroke-width="1.45" stroke-linejoin="round" stroke-dasharray="8.8 3.4 3.4 3.6"/>
<path d="M265.5,327.1 L333.3,327.1 L333.64,327.44 L333.99,327.75 L334.34,328.05 L334.68,328.35 L335.03,328.68 L335.36,329.05 L335.69,329.49 L336,330 L336.56,331.31 L337.05,332.98 L337.49,334.9 L337.91,336.98 L338.31,339.12 L338.74,341.22 L339.19,343.18 L339.7,344.9 L340.1,346.08 L340.48,347.21 L340.85,348.29 L341.25,349.33 L341.68,350.33 L342.17,351.31 L342.74,352.26 L343.4,353.2 L344.29,354.25 L345.31,355.27 L346.43,356.25 L347.62,357.2 L348.87,358.12 L350.13,358.99 L351.38,359.82 L352.6,360.6 L353.72,361.28 L354.85,361.9 L356,362.49 L357.15,363.04 L358.31,363.57 L359.48,364.08 L360.64,364.59 L361.8,365.1 L362.95,365.61 L364.12,366.12 L365.3,366.63 L366.48,367.12 L367.65,367.59 L368.8,368.04 L369.92,368.44 L371,368.8 L371.85,369.08 L372.7,369.36 L373.52,369.63 L374.33,369.87 L375.13,370.08 L375.91,370.23 L376.66,370.31 L377.4,370.3 L378.02,370.22 L378.63,370.09 L379.23,369.9 L379.81,369.68 L380.38,369.42 L380.94,369.13 L381.48,368.82 L382,368.5 L382.51,368.16 L382.99,367.8 L383.46,367.41 L383.92,366.99 L384.37,366.55 L384.81,366.09 L385.25,365.61 L385.7,365.1 L386.24,364.41 L386.77,363.64 L387.29,362.8 L387.81,361.95 L388.33,361.1 L388.87,360.31 L389.42,359.59 L390,359 L390.46,358.6 L390.94,358.21 L391.42,357.85 L391.92,357.53 L392.41,357.26 L392.91,357.06 L393.41,356.93 L393.9,356.9 L394.41,356.98 L394.91,357.17 L395.42,357.45 L395.92,357.8 L396.43,358.2 L396.94,358.63 L397.47,359.07 L398,359.5 L398.7,360.09 L399.42,360.75 L400.14,361.47 L400.88,362.22 L401.63,362.97 L402.4,363.71 L403.19,364.39 L404,365 L404.82,365.54 L405.67,366.06 L406.55,366.54 L407.44,367 L408.33,367.43 L409.23,367.82 L410.12,368.18 L411,368.5 L411.79,368.77 L412.58,369.04 L413.38,369.29 L414.17,369.51 L414.95,369.68 L415.72,369.8 L416.47,369.84 L417.2,369.8 L417.85,369.69 L418.48,369.52 L419.09,369.3 L419.7,369.02 L420.29,368.7 L420.87,368.34 L421.44,367.94 L422,367.5 L422.68,366.87 L423.33,366.13 L423.97,365.3 L424.59,364.42 L425.2,363.52 L425.8,362.63 L426.4,361.78 L427,361 L427.51,360.36 L428.02,359.72 L428.52,359.07 L429.02,358.45 L429.51,357.87 L430.01,357.34 L430.5,356.87 L431,356.5 L431.35,356.28 L431.69,356.09 L432.03,355.92 L432.37,355.78 L432.72,355.68 L433.07,355.61 L433.43,355.58 L433.8,355.6 L434.29,355.7 L434.78,355.88 L435.29,356.14 L435.81,356.45 L436.34,356.8 L436.88,357.19 L437.44,357.59 L438,358 L438.81,358.61 L439.65,359.31 L440.52,360.07 L441.41,360.87 L442.31,361.69 L443.22,362.5 L444.12,363.28 L445,364 L445.81,364.64 L446.62,365.28 L447.42,365.91 L448.23,366.52 L449.04,367.11 L449.85,367.66 L450.67,368.16 L451.5,368.6 L452.26,368.97 L453.04,369.32 L453.82,369.66 L454.61,369.95 L455.39,370.2 L456.16,370.38 L456.89,370.49 L457.6,370.5 L458.17,370.44 L458.74,370.32 L459.29,370.16 L459.83,369.94 L460.35,369.68 L460.85,369.39 L461.34,369.06 L461.8,368.7 L462.3,368.23 L462.75,367.69 L463.18,367.08 L463.59,366.44 L463.99,365.77 L464.38,365.1 L464.79,364.43 L465.2,363.8" fill="none" stroke="#111" stroke-width="1.4" stroke-linejoin="round"/>
<text transform="translate(471.2,380.57) scale(1.02,1)" font-size="8.6" text-anchor="start">0</text>
<text transform="translate(471.2,344.28) scale(1.02,1)" font-size="8.6" text-anchor="start">5x10<tspan dx="0.86" dy="-4.64" font-size="4.99">5</tspan></text>
<text transform="translate(471.2,307.99) scale(1.02,1)" font-size="8.6" text-anchor="start">1x10<tspan dx="0.86" dy="-4.64" font-size="4.99">6</tspan></text>
<text transform="translate(471.2,271.69) scale(1.02,1)" font-size="8.6" text-anchor="start">1.5x10<tspan dx="0.86" dy="-4.64" font-size="4.99">6</tspan></text>
<text transform="translate(471.2,235.4) scale(1.02,1)" font-size="8.6" text-anchor="start">2x10<tspan dx="0.86" dy="-4.64" font-size="4.99">6</tspan></text>
<text transform="translate(265.7,389.9) scale(0.94,1)" font-size="9.7" text-anchor="middle">900</text>
<text transform="translate(332.33,389.9) scale(0.94,1)" font-size="9.7" text-anchor="middle">1000</text>
<text transform="translate(398.97,389.9) scale(0.94,1)" font-size="9.7" text-anchor="middle">1100</text>
<text transform="translate(465.6,389.9) scale(0.94,1)" font-size="9.7" text-anchor="middle">1200</text>
<text transform="translate(512.6,305.3) rotate(-90) scale(1.1,1)" font-size="9.6" text-anchor="middle">Total bacteria per ml</text>
<text transform="translate(365,221.7)" font-size="11.9" text-anchor="middle">D</text>
<text transform="translate(364,401.5)" font-size="12.5" text-anchor="middle">Time (days)</text>
</svg>
</body></html>
